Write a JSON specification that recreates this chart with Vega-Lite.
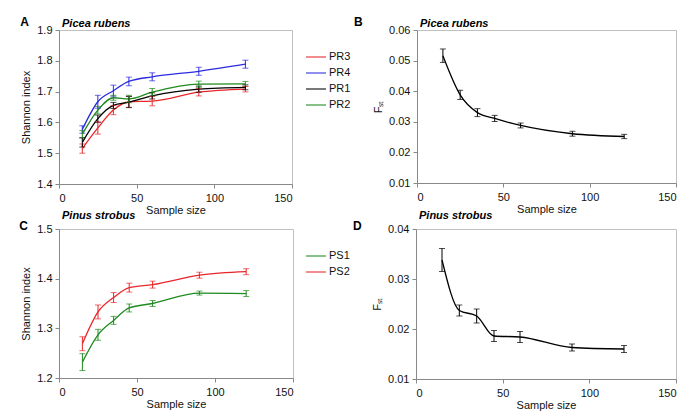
{
  "$schema": "https://vega.github.io/schema/vega-lite/v6.json",
  "background": "white",
  "padding": {"left": 19, "top": 15, "right": 5, "bottom": 5},
  "config": {
    "font": "Liberation Sans",
    "view": {"stroke": "#c0c0c0"},
    "axis": {"grid": false, "domainColor": "#888888", "tickColor": "#888888", "labelFontSize": 11, "titleFontSize": 11, "titleFontWeight": "normal", "labelColor": "#111111", "titleColor": "#111111", "tickSize": 4},
    "axisX": {"labelPadding": 4, "titlePadding": 1},
    "axisY": {"labelPadding": 3, "titlePadding": 5},
    "legend": {"symbolType": "stroke", "symbolSize": 400, "symbolStrokeWidth": 1.5, "labelFontSize": 11, "labelColor": "#111111", "labelOffset": 2, "rowPadding": -5, "title": null},
    "title": {"font": "Liberation Sans"}
  },
  "datasets": {
    "pr": [
      {"pop": "PR3", "n": 15, "h": 1.515, "e": 0.015},
      {"pop": "PR3", "n": 25, "h": 1.582, "e": 0.02},
      {"pop": "PR3", "n": 35, "h": 1.640, "e": 0.015},
      {"pop": "PR3", "n": 45, "h": 1.667, "e": 0.018},
      {"pop": "PR3", "n": 60, "h": 1.669, "e": 0.015},
      {"pop": "PR3", "n": 90, "h": 1.698, "e": 0.012},
      {"pop": "PR3", "n": 120, "h": 1.708, "e": 0.009},
      {"pop": "PR4", "n": 15, "h": 1.577, "e": 0.012},
      {"pop": "PR4", "n": 25, "h": 1.667, "e": 0.021},
      {"pop": "PR4", "n": 35, "h": 1.703, "e": 0.018},
      {"pop": "PR4", "n": 45, "h": 1.733, "e": 0.014},
      {"pop": "PR4", "n": 60, "h": 1.748, "e": 0.013},
      {"pop": "PR4", "n": 90, "h": 1.766, "e": 0.013},
      {"pop": "PR4", "n": 120, "h": 1.789, "e": 0.013},
      {"pop": "PR1", "n": 15, "h": 1.535, "e": 0.015},
      {"pop": "PR1", "n": 25, "h": 1.612, "e": 0.012},
      {"pop": "PR1", "n": 35, "h": 1.655, "e": 0.01},
      {"pop": "PR1", "n": 45, "h": 1.666, "e": 0.018},
      {"pop": "PR1", "n": 60, "h": 1.686, "e": 0.01},
      {"pop": "PR1", "n": 90, "h": 1.708, "e": 0.01},
      {"pop": "PR1", "n": 120, "h": 1.714, "e": 0.008},
      {"pop": "PR2", "n": 15, "h": 1.562, "e": 0.012},
      {"pop": "PR2", "n": 25, "h": 1.640, "e": 0.012},
      {"pop": "PR2", "n": 35, "h": 1.680, "e": 0.008},
      {"pop": "PR2", "n": 45, "h": 1.676, "e": 0.012},
      {"pop": "PR2", "n": 60, "h": 1.698, "e": 0.012},
      {"pop": "PR2", "n": 90, "h": 1.724, "e": 0.01},
      {"pop": "PR2", "n": 120, "h": 1.725, "e": 0.008}
    ],
    "fstpr": [
      {"n": 15, "f": 0.0516, "e": 0.0022},
      {"n": 25, "f": 0.0388, "e": 0.0015},
      {"n": 35, "f": 0.0330, "e": 0.0013},
      {"n": 45, "f": 0.0311, "e": 0.0010},
      {"n": 60, "f": 0.0288, "e": 0.0008},
      {"n": 90, "f": 0.0261, "e": 0.0008},
      {"n": 120, "f": 0.0252, "e": 0.0007}
    ],
    "ps": [
      {"pop": "PS1", "n": 15, "h": 1.232, "e": 0.017},
      {"pop": "PS1", "n": 25, "h": 1.287, "e": 0.011},
      {"pop": "PS1", "n": 35, "h": 1.316, "e": 0.008},
      {"pop": "PS1", "n": 45, "h": 1.341, "e": 0.008},
      {"pop": "PS1", "n": 60, "h": 1.350, "e": 0.006},
      {"pop": "PS1", "n": 90, "h": 1.371, "e": 0.004},
      {"pop": "PS1", "n": 120, "h": 1.370, "e": 0.006},
      {"pop": "PS2", "n": 15, "h": 1.269, "e": 0.014},
      {"pop": "PS2", "n": 25, "h": 1.333, "e": 0.014},
      {"pop": "PS2", "n": 35, "h": 1.362, "e": 0.01},
      {"pop": "PS2", "n": 45, "h": 1.382, "e": 0.009},
      {"pop": "PS2", "n": 60, "h": 1.388, "e": 0.007},
      {"pop": "PS2", "n": 90, "h": 1.407, "e": 0.006},
      {"pop": "PS2", "n": 120, "h": 1.414, "e": 0.006}
    ],
    "fstps": [
      {"n": 15, "f": 0.0338, "e": 0.0023},
      {"n": 25, "f": 0.0237, "e": 0.0011},
      {"n": 35, "f": 0.0226, "e": 0.0014},
      {"n": 45, "f": 0.0186, "e": 0.0011},
      {"n": 60, "f": 0.0184, "e": 0.0011},
      {"n": 90, "f": 0.0163, "e": 0.0007},
      {"n": 120, "f": 0.0160, "e": 0.0007}
    ]
  },
  "spacing": -7,
  "resolve": {"scale": {"color": "independent"}, "legend": {"color": "independent"}},
  "vconcat": [
    {
      "spacing": 3,
      "resolve": {"scale": {"color": "independent"}, "legend": {"color": "independent"}},
      "hconcat": [
        {
          "title": {"text": "A", "anchor": "start", "frame": "bounds", "offset": -11, "fontSize": 12, "fontWeight": "bold", "dx": 0},
          "hconcat": [
            {
              "width": 233, "height": 154,
              "title": {"text": "Picea rubens", "anchor": "start", "frame": "group", "fontStyle": "italic", "fontWeight": "bold", "fontSize": 11, "offset": -5, "dx": 3},
              "data": {"name": "pr"},
              "layer": [
                {
                  "mark": {"type": "line", "interpolate": "monotone", "strokeWidth": 1.3},
                  "encoding": {
                    "x": {"field": "n", "type": "quantitative", "title": "Sample size", "scale": {"domain": [0, 150], "nice": false}, "axis": {"values": [0, 50, 100, 150]}},
                    "y": {"field": "h", "type": "quantitative", "title": "Shannon index", "scale": {"domain": [1.4, 1.9], "nice": false, "zero": false}, "axis": {"values": [1.4, 1.5, 1.6, 1.7, 1.8, 1.9], "format": ".1f"}},
                    "color": {"field": "pop", "type": "nominal", "scale": {"domain": ["PR3", "PR4", "PR1", "PR2"], "range": ["#e8262b", "#2b2be0", "#000000", "#1f8a1f"]}, "legend": {"orient": "none", "legendX": 246, "legendY": 16}}
                  }
                },
                {
                  "mark": {"type": "errorbar", "ticks": {"size": 6}, "thickness": 1},
                  "encoding": {
                    "x": {"field": "n", "type": "quantitative", "title": "Sample size", "axis": {"values": [0, 50, 100, 150]}},
                    "y": {"field": "h", "type": "quantitative", "title": "Shannon index", "axis": {"values": [1.4, 1.5, 1.6, 1.7, 1.8, 1.9], "format": ".1f"}},
                    "yError": {"field": "e"},
                    "color": {"field": "pop", "type": "nominal"}
                  }
                }
              ]
            }
          ]
        },
        {
          "title": {"text": "B", "anchor": "start", "frame": "bounds", "offset": -11, "fontSize": 12, "fontWeight": "bold", "dx": -18},
          "hconcat": [
            {
              "width": 259, "height": 153,
              "title": {"text": "Picea rubens", "anchor": "start", "frame": "group", "fontStyle": "italic", "fontWeight": "bold", "fontSize": 11, "offset": -5, "dx": 3},
              "data": {"name": "fstpr"},
              "layer": [
                {
                  "mark": {"type": "line", "interpolate": "monotone", "strokeWidth": 1.3, "color": "#000000"},
                  "encoding": {
                    "x": {"field": "n", "type": "quantitative", "title": "Sample size", "scale": {"domain": [0, 150], "nice": false}, "axis": {"values": [0, 50, 100, 150]}},
                    "y": {"field": "f", "type": "quantitative", "title": "Fₛₜ", "scale": {"domain": [0.01, 0.06], "nice": false, "zero": false}, "axis": {"values": [0.01, 0.02, 0.03, 0.04, 0.05, 0.06], "format": ".2f"}}
                  }
                },
                {
                  "mark": {"type": "errorbar", "ticks": {"size": 6}, "thickness": 1, "color": "#000000"},
                  "encoding": {
                    "x": {"field": "n", "type": "quantitative", "title": "Sample size", "axis": {"values": [0, 50, 100, 150]}},
                    "y": {"field": "f", "type": "quantitative", "title": "Fₛₜ", "axis": {"values": [0.01, 0.02, 0.03, 0.04, 0.05, 0.06], "format": ".2f"}},
                    "yError": {"field": "e"}
                  }
                }
              ]
            }
          ]
        }
      ]
    },
    {
      "spacing": 3,
      "resolve": {"scale": {"color": "independent"}, "legend": {"color": "independent"}},
      "hconcat": [
        {
          "title": {"text": "C", "anchor": "start", "frame": "bounds", "offset": -23, "fontSize": 12, "fontWeight": "bold", "dx": -1},
          "hconcat": [
            {
              "width": 234, "height": 149,
              "title": {"text": "Pinus strobus", "anchor": "start", "frame": "group", "fontStyle": "italic", "fontWeight": "bold", "fontSize": 11, "offset": 2, "dx": 3},
              "data": {"name": "ps"},
              "layer": [
                {
                  "mark": {"type": "line", "interpolate": "monotone", "strokeWidth": 1.3},
                  "encoding": {
                    "x": {"field": "n", "type": "quantitative", "title": "Sample size", "scale": {"domain": [0, 150], "nice": false}, "axis": {"values": [0, 50, 100, 150]}},
                    "y": {"field": "h", "type": "quantitative", "title": "Shannon index", "scale": {"domain": [1.2, 1.5], "nice": false, "zero": false}, "axis": {"values": [1.2, 1.3, 1.4, 1.5], "format": ".1f"}},
                    "color": {"field": "pop", "type": "nominal", "scale": {"domain": ["PS1", "PS2"], "range": ["#1f8a1f", "#e8262b"]}, "legend": {"orient": "none", "legendX": 246, "legendY": 16}}
                  }
                },
                {
                  "mark": {"type": "errorbar", "ticks": {"size": 6}, "thickness": 1},
                  "encoding": {
                    "x": {"field": "n", "type": "quantitative", "title": "Sample size", "axis": {"values": [0, 50, 100, 150]}},
                    "y": {"field": "h", "type": "quantitative", "title": "Shannon index", "axis": {"values": [1.2, 1.3, 1.4, 1.5], "format": ".1f"}},
                    "yError": {"field": "e"},
                    "color": {"field": "pop", "type": "nominal"}
                  }
                }
              ]
            }
          ]
        },
        {
          "title": {"text": "D", "anchor": "start", "frame": "bounds", "offset": -23, "fontSize": 12, "fontWeight": "bold", "dx": -18},
          "hconcat": [
            {
              "width": 260, "height": 150,
              "title": {"text": "Pinus strobus", "anchor": "start", "frame": "group", "fontStyle": "italic", "fontWeight": "bold", "fontSize": 11, "offset": 2, "dx": 3},
              "data": {"name": "fstps"},
              "layer": [
                {
                  "mark": {"type": "line", "interpolate": "monotone", "strokeWidth": 1.3, "color": "#000000"},
                  "encoding": {
                    "x": {"field": "n", "type": "quantitative", "title": "Sample size", "scale": {"domain": [0, 150], "nice": false}, "axis": {"values": [0, 50, 100, 150]}},
                    "y": {"field": "f", "type": "quantitative", "title": "Fₛₜ", "scale": {"domain": [0.01, 0.04], "nice": false, "zero": false}, "axis": {"values": [0.01, 0.02, 0.03, 0.04], "format": ".2f"}}
                  }
                },
                {
                  "mark": {"type": "errorbar", "ticks": {"size": 6}, "thickness": 1, "color": "#000000"},
                  "encoding": {
                    "x": {"field": "n", "type": "quantitative", "title": "Sample size", "axis": {"values": [0, 50, 100, 150]}},
                    "y": {"field": "f", "type": "quantitative", "title": "Fₛₜ", "axis": {"values": [0.01, 0.02, 0.03, 0.04], "format": ".2f"}},
                    "yError": {"field": "e"}
                  }
                }
              ]
            }
          ]
        }
      ]
    }
  ]
}
